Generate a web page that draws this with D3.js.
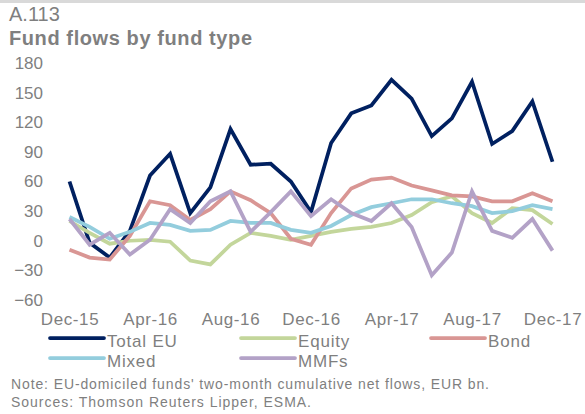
<!DOCTYPE html>
<html>
<head>
<meta charset="utf-8">
<script src="https://cdn.jsdelivr.net/npm/d3@7"></script>
<style>
  html, body { margin: 0; padding: 0; background: #fff; }
  svg { display: block; font-family: "Liberation Sans", Arial, sans-serif; }
</style>
</head>
<body>
<svg id="chart" width="585" height="414"></svg>
<script>
const months = ["Dec-15","Jan-16","Feb-16","Mar-16","Apr-16","May-16","Jun-16","Jul-16","Aug-16","Sep-16","Oct-16","Nov-16",
  "Dec-16","Jan-17","Feb-17","Mar-17","Apr-17","May-17","Jun-17","Jul-17","Aug-17","Sep-17","Oct-17","Nov-17","Dec-17"];
const tickLabels = ["Dec-15","Apr-16","Aug-16","Dec-16","Apr-17","Aug-17","Dec-17"];
const yTicks = [-60, -30, 0, 30, 60, 90, 120, 150, 180];

const totalEU = [60, -2, -17, 10, 66, 88, 28, 54, 113, 77, 78, 60, 29, 99, 129, 137, 163, 144, 106, 124, 161, 98, 111, 141, 80];
const equity  = [20, 8, -3, 0, 1, -1, -20, -24, -4, 8, 5, 1, 5, 9, 12, 14, 18, 26, 39, 45, 28, 18, 33, 31, 17];
const bond    = [-9, -17, -19, 5, 40, 36, 21, 32, 50, 41, 28, 2, -4, 28, 53, 62, 64, 56, 51, 46, 45, 40, 40, 48, 40];
const mixed   = [24, 14, 2, 9, 18, 16, 10, 11, 20, 18, 18, 11, 8, 15, 26, 34, 38, 42, 42, 38, 35, 28, 30, 36, 32];
const mmfs    = [22, -4, 8, -14, 1, 32, 18, 40, 50, 9, 29, 50, 25, 42, 28, 20, 38, 14, -35, -12, 50, 10, 3, 22, -10];

const seriesNames = ["Total EU", "Equity", "Bond", "Mixed", "MMFs"];
const seriesValues = [totalEU, equity, bond, mixed, mmfs];
const colors = ["#002060", "#C3D69B", "#D99694", "#93CDDD", "#B3A2C7"];

const svg = d3.select("#chart");
const textColor = "#7f7f7f";

// top rule
svg.append("rect").attr("x", 0).attr("y", 0).attr("width", 585).attr("height", 3).attr("fill", "#d9d9d9");

svg.append("text").attr("x", 9).attr("y", 21).attr("font-size", 20).attr("fill", textColor).text("A.113");
svg.append("text").attr("x", 9).attr("y", 45).attr("font-size", 20).attr("font-weight", "bold")
  .attr("fill", textColor).attr("textLength", 243).attr("lengthAdjust", "spacing").text("Fund flows by fund type");

const x = d3.scalePoint().domain(months).range([69.5, 552.5]);
const y = d3.scaleLinear().domain([-60, 180]).range([300, 63]);

// y axis
const yAxis = svg.append("g").attr("transform", "translate(43,0)")
  .call(d3.axisLeft(y).tickValues(yTicks).tickSize(0).tickPadding(0));
yAxis.select(".domain").remove();
yAxis.selectAll("text").attr("font-size", 17).attr("fill", textColor)
  .attr("font-family", "Liberation Sans, Arial, sans-serif");

// x axis
const xAxis = svg.append("g").attr("transform", "translate(0,313)")
  .call(d3.axisBottom(x).tickValues(tickLabels).tickSize(0).tickPadding(0));
xAxis.select(".domain").remove();
xAxis.selectAll("text").attr("font-size", 17).attr("fill", textColor)
  .attr("letter-spacing", "0.6px")
  .attr("font-family", "Liberation Sans, Arial, sans-serif");

const line = d3.line().x((d, i) => x(months[i])).y(d => y(d));

seriesValues.forEach((vals, k) => {
  svg.append("path").datum(vals).attr("d", line)
    .attr("fill", "none").attr("stroke", colors[k]).attr("stroke-width", 3.75)
    .attr("stroke-linejoin", "miter");
});

// legend
const legendPos = [[50, 338], [241, 338], [431, 338], [50, 358], [241, 358]];
seriesNames.forEach((name, k) => {
  const [lx, ly] = legendPos[k];
  svg.append("line").attr("x1", lx).attr("x2", lx + 54).attr("y1", ly).attr("y2", ly)
    .attr("stroke", colors[k]).attr("stroke-width", 3.75).attr("stroke-linecap", "round");
  svg.append("text").attr("x", lx + 57).attr("y", ly + 9).attr("font-size", 17)
    .attr("letter-spacing", "0.8px").attr("fill", textColor).text(name);
});

svg.append("text").attr("x", 11).attr("y", 389).attr("font-size", 14).attr("fill", textColor)
  .attr("textLength", 478).attr("lengthAdjust", "spacing")
  .text("Note: EU-domiciled funds' two-month cumulative net flows, EUR bn.");
svg.append("text").attr("x", 11).attr("y", 407).attr("font-size", 14).attr("fill", textColor)
  .attr("textLength", 300).attr("lengthAdjust", "spacing")
  .text("Sources: Thomson Reuters Lipper, ESMA.");
</script>
</body>
</html>
